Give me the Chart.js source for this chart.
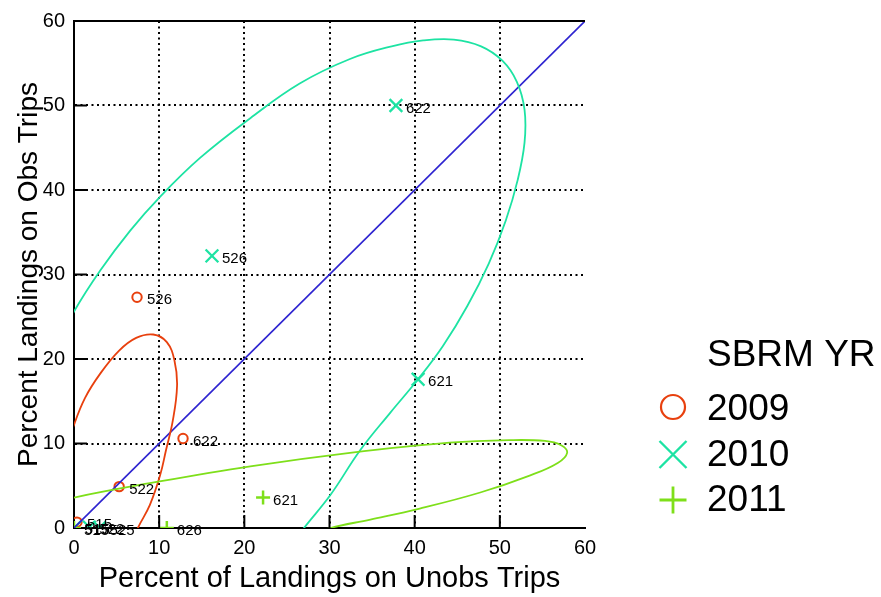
<!DOCTYPE html>
<html>
<head>
<meta charset="utf-8">
<script src="https://cdn.jsdelivr.net/npm/chart.js"></script>
<style>
  html, body { margin: 0; padding: 0; background: #fff; }
  canvas { display: block; }
</style>
</head>
<body>
<canvas id="c" width="881" height="597"></canvas>
<script>
// Scatter of landings share by statistical area, grouped by SBRM year
const years = ['2009', '2010', '2011'];

const x2009 = [7.4, 12.8, 5.3, 0.35];
const y2009 = [27.3, 10.6, 4.9, 0.7];
const lab2009 = ['526', '622', '522', '515'];

const x2010 = [37.8, 16.2, 40.4, 0.1, 1.8, 3.0];
const y2010 = [50.0, 32.2, 17.6, 0.1, 0.1, 0.05];
const lab2010 = ['622', '526', '621', '515', '522', '525'];

const x2011 = [22.2, 10.9, 0.0];
const y2011 = [3.6, 0.0, 0.0];
const lab2011 = ['621', '626', '515'];

// Density ellipse outlines, one per year (parts fall outside the axes and are clipped)
const ell2009x = [4.5, 6.3, 7.5, 8.9, 10.1, 10.8, 11.6, 12.1, 11.8, 10.9, 9.3, 7.3, 5.3, 3.1, 1.3, 0, -1.3, -1.8, -1.2, 0.5, 2.5, 4.5];
const ell2009y = [-6.0, -3.0, 0, 2.7, 6.2, 9.2, 12.7, 16.8, 19.8, 22.0, 22.9, 22.5, 21.0, 18.3, 15.4, 12.2, 8.0, 3.0, -1.5, -4.8, -6.2, -6.0];

const ell2010x = [24, 27, 30.1, 33.6, 37.1, 40.4, 43.3, 46.2, 48.7, 50.7, 52.1, 52.9, 52.9, 52.0, 50.3, 47.8, 44.6, 41.0, 37.3, 32.4, 26.5, 20.7, 14.8, 10.1, 6.6, 3.1, 0, -2.5, -4.5, -5, -3.5, 0, 5, 12, 18, 24];
const ell2010y = [-4, 0, 3.9, 9.2, 13.6, 17.6, 21.5, 26.3, 31.3, 36.4, 41.2, 45.6, 49.5, 52.8, 55.3, 57.0, 57.8, 57.7, 57.0, 55.5, 52.6, 48.5, 43.8, 39.2, 35.2, 30.5, 25.6, 20.5, 14, 7, 1, -3.5, -7, -8.5, -7.5, -4];

const ell2011x = [20, 26, 30.1, 34.8, 40.6, 47.7, 53.5, 56.8, 57.9, 57.2, 55.3, 51.2, 44.1, 32.4, 20.7, 8.9, 0, -5, -7.5, -6, 0, 8, 14, 20];
const ell2011y = [-3, -1.3, 0, 1.0, 2.3, 4.2, 6.2, 7.7, 8.9, 9.8, 10.3, 10.4, 10.1, 8.9, 7.3, 5.3, 3.6, 2.3, 0.5, -2, -3.8, -4.5, -4.2, -3];

// Line of equality
const diagX = [0, 60];
const diagY = [0, 60];

const axisMin = 0, axisMax = 60, axisStep = 10;

const RED = '#e8400e', TEAL = '#1de3a3', GREEN = '#7edf1a', BLUE = '#2e24d0';
const FONT = '"Liberation Sans", Arial, sans-serif';

const pts = (xs, ys) => xs.map((v, i) => ({ x: v, y: ys[i] }));

const outline = (xs, ys, color) => ({
  data: pts(xs, ys),
  showLine: true,
  borderColor: color,
  borderWidth: 1.8,
  pointRadius: 0,
  pointHoverRadius: 0,
  tension: 0.4,
  capBezierPoints: false,
  fill: false
});

const markers = (xs, ys, labels, color, style, radius, width) => ({
  data: pts(xs, ys),
  pointLabels: labels,
  showLine: false,
  pointStyle: style,
  pointRadius: radius,
  pointHoverRadius: radius,
  pointBorderWidth: width,
  borderColor: color,
  backgroundColor: 'rgba(0,0,0,0)',
  pointBackgroundColor: 'rgba(0,0,0,0)'
});

const datasets = [
  outline(ell2011x, ell2011y, GREEN),
  outline(ell2010x, ell2010y, TEAL),
  outline(ell2009x, ell2009y, RED),
  { data: pts(diagX, diagY), showLine: true, borderColor: BLUE, borderWidth: 1.6, pointRadius: 0, tension: 0 },
  markers(x2011, y2011, lab2011, GREEN, 'cross', 7, 2.5),
  markers(x2010, y2010, lab2010, TEAL, 'crossRot', 9, 2.3),
  markers(x2009, y2009, lab2009, RED, 'circle', 4.7, 2)
];

// Text next to each marker
const pointLabelPlugin = {
  id: 'pointLabels',
  afterDatasetsDraw(chart) {
    const ctx = chart.ctx;
    ctx.save();
    ctx.font = '15px ' + FONT;
    ctx.fillStyle = '#000';
    ctx.textBaseline = 'middle';
    ctx.textAlign = 'left';
    chart.data.datasets.forEach((ds, i) => {
      if (!ds.pointLabels) return;
      chart.getDatasetMeta(i).data.forEach((el, j) => {
        ctx.fillText(ds.pointLabels[j], el.x + 10, el.y + 3);
      });
    });
    ctx.restore();
  }
};

// Inward tick marks and top frame line
const framePlugin = {
  id: 'frame',
  afterDraw(chart) {
    const { ctx, chartArea: a, scales } = chart;
    ctx.save();
    ctx.strokeStyle = '#000';
    ctx.lineWidth = 2;
    ctx.beginPath();
    scales.x.ticks.forEach(t => {
      if (t.value === axisMin || t.value === axisMax) return;
      const px = scales.x.getPixelForValue(t.value);
      ctx.moveTo(px, a.bottom);
      ctx.lineTo(px, a.bottom - 13);
    });
    scales.y.ticks.forEach(t => {
      if (t.value === axisMin || t.value === axisMax) return;
      const py = scales.y.getPixelForValue(t.value);
      ctx.moveTo(a.left, py);
      ctx.lineTo(a.left + 13, py);
    });
    ctx.moveTo(a.left - 1, a.top);
    ctx.lineTo(a.right, a.top);
    ctx.stroke();
    ctx.restore();
  }
};

// Legend block at the right
const legendPlugin = {
  id: 'sideLegend',
  afterDraw(chart) {
    const ctx = chart.ctx;
    ctx.save();
    ctx.fillStyle = '#000';
    ctx.textBaseline = 'middle';
    ctx.textAlign = 'left';
    ctx.font = '37px ' + FONT;
    ctx.fillText('SBRM YR', 707, 356);
    const rows = [
      { label: years[0], color: RED, style: 'circle' },
      { label: years[1], color: TEAL, style: 'crossRot' },
      { label: years[2], color: GREEN, style: 'cross' }
    ];
    rows.forEach((r, i) => {
      const cy = 409 + i * 45.5;
      const cx = 673;
      ctx.strokeStyle = r.color;
      ctx.beginPath();
      if (r.style === 'circle') {
        ctx.lineWidth = 2.2;
        ctx.arc(cx, cy - 2, 12, 0, Math.PI * 2);
      } else if (r.style === 'crossRot') {
        ctx.lineWidth = 2.4;
        ctx.moveTo(cx - 13.5, cy - 13.5); ctx.lineTo(cx + 13.5, cy + 13.5);
        ctx.moveTo(cx + 13.5, cy - 13.5); ctx.lineTo(cx - 13.5, cy + 13.5);
      } else {
        ctx.lineWidth = 2.8;
        ctx.moveTo(cx - 13.5, cy); ctx.lineTo(cx + 13.5, cy);
        ctx.moveTo(cx, cy - 13.5); ctx.lineTo(cx, cy + 13.5);
      }
      ctx.stroke();
      ctx.fillStyle = '#000';
      ctx.fillText(r.label, 707, cy + 1);
    });
    ctx.restore();
  }
};

const gridColor = (c) => (c.tick && (c.tick.value === axisMin || c.tick.value === axisMax)) ? 'rgba(0,0,0,0)' : '#000';

const axisCommon = (title, size, titlePad) => ({
  type: 'linear',
  min: axisMin,
  max: axisMax,
  ticks: { stepSize: axisStep, color: '#000', font: { family: FONT, size: 20 }, padding: 8 },
  grid: { color: gridColor, lineWidth: 2, drawTicks: false },
  border: { display: true, color: '#000', width: 2, dash: [2, 3.5] },
  title: { display: true, text: title, color: '#000', font: { family: FONT, size: size }, padding: titlePad }
});

const xAxis = axisCommon('Percent of Landings on Unobs Trips', 29, { top: 0, bottom: 1 });
xAxis.afterFit = (s) => { s.height = 597 - 528; };
const yAxis = axisCommon('Percent Landings on Obs Trips', 28, { top: 12, bottom: 0 });
yAxis.ticks.padding = 9;
yAxis.afterFit = (s) => { s.width = 74; };

new Chart(document.getElementById('c'), {
  type: 'scatter',
  data: { datasets },
  options: {
    responsive: false,
    animation: false,
    layout: { padding: { left: 0, top: 17, right: 296, bottom: 0 } },
    plugins: { legend: { display: false }, tooltip: { enabled: false } },
    scales: { x: xAxis, y: yAxis }
  },
  plugins: [pointLabelPlugin, framePlugin, legendPlugin]
});
</script>
</body>
</html>
